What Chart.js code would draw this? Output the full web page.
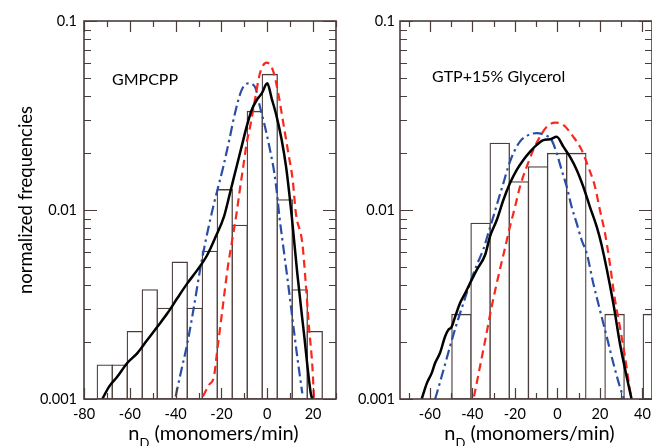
<!DOCTYPE html>
<html><head><meta charset="utf-8">
<script src="https://cdn.jsdelivr.net/npm/chart.js@4.4.1/dist/chart.umd.min.js"></script>
<style>
html,body{margin:0;padding:0;background:#fff;overflow:hidden;width:652px;height:446px}
#w1{position:absolute;left:0;top:0;width:345px;height:446px}
#w2{position:absolute;left:340px;top:0;width:320px;height:446px}
</style></head><body>
<div id="w1"><canvas id="c1" width="345" height="446"></canvas></div>
<div id="w2"><canvas id="c2" width="320" height="446"></canvas></div>
<script>
// ---------- DATA ----------
const yTickValues = [0.001, 0.01, 0.1];
const leftXTicks = [-80, -60, -40, -20, 0, 20];
const rightXTicks = [-60, -40, -20, 0, 20, 40];

// Left panel: GMPCPP
const leftBinCenters = [-70.93, -64.38, -57.83, -51.28, -44.74, -38.19, -31.64, -25.09, -18.55, -12.00, -5.45, 1.09, 7.64, 14.19, 20.74];
const leftHist = [0.00151, 0.00151, 0.00227, 0.00378, 0.00302, 0.00529, 0.00302, 0.00604, 0.0128, 0.0083, 0.0332, 0.0521, 0.0113, 0.00378, 0.00227];
const leftRedX = [-28.1, -25.4, -23.3, -21.8, -19.6, -17.2, -15.3, -13.4, -12.2, -10.5, -9.0, -7.5, -5.4, -3.2, -0.3, 2.4, 4.8, 7.0, 9.2, 11.1, 12.5, 15.3, 16.8, 18.2, 19.7, 20.4];
const leftRedY = [0.00103, 0.00119, 0.00131, 0.00182, 0.00296, 0.00501, 0.00694, 0.00961, 0.01226, 0.01695, 0.02254, 0.0276, 0.0382, 0.0529, 0.0602, 0.0551, 0.0414, 0.0288, 0.01995, 0.01442, 0.0096, 0.00667, 0.00409, 0.00241, 0.00148, 0.001];
const leftBlueX = [-40.0, -37.8, -34.9, -32.0, -29.1, -26.2, -23.6, -21.4, -19.2, -16.6, -14.1, -11.2, -8.3, -5.4, -3.2, -1.0, 1.2, 3.1, 4.4, 5.3, 6.6, 8.7, 10.9, 13.1, 15.3];
const leftBlueY = [0.00103, 0.00137, 0.00197, 0.00308, 0.00501, 0.00753, 0.0104, 0.01328, 0.01695, 0.02344, 0.0325, 0.0431, 0.0468, 0.0449, 0.0352, 0.0276, 0.0208, 0.01563, 0.01175, 0.00922, 0.00694, 0.00444, 0.00272, 0.00167, 0.00107];
const leftBlackX = [-72.0, -69.1, -65.5, -61.1, -56.7, -52.4, -48.0, -43.6, -39.3, -34.9, -30.5, -26.2, -22.5, -18.9, -16.3, -13.4, -11.2, -9.0, -6.8, -4.6, -2.4, 0.0, 1.9, 4.1, 6.3, 8.2, 9.6, 10.7, 13.1, 16.0, 19.0, 19.7];
const leftBlackY = [0.001, 0.00116, 0.00131, 0.00155, 0.00175, 0.00205, 0.00241, 0.00284, 0.00341, 0.00409, 0.00482, 0.00578, 0.00723, 0.00922, 0.01226, 0.01695, 0.02163, 0.0276, 0.0338, 0.0382, 0.0414, 0.0468, 0.039, 0.0312, 0.02344, 0.01695, 0.01226, 0.00922, 0.00462, 0.00223, 0.00107, 0.001];

// Right panel: GTP+15% Glycerol
const rightBinCenters = [-45.1, -36.1, -27.1, -18.1, -9.1, -0.1, 8.9, 17.9, 26.9, 35.9, 44.9];
const rightHist = [0.0028, 0.0085, 0.0225, 0.0141, 0.0169, 0.0199, 0.0199, null, 0.0028, null, 0.0028];
const rightRedX = [-39.2, -36.4, -33.6, -30.9, -27.8, -24.6, -22.3, -19.9, -17.6, -14.4, -11.3, -8.2, -5.0, -1.1, 2.8, 7.5, 11.4, 14.5, 17.7, 20.0, 22.4, 24.3, 27.1, 29.4, 31.8, 34.1, 34.9];
const rightRedY = [0.00103, 0.00148, 0.00214, 0.00308, 0.00444, 0.0063, 0.00816, 0.0104, 0.01328, 0.01695, 0.0208, 0.0244, 0.0276, 0.029, 0.0282, 0.0244, 0.0208, 0.01695, 0.01328, 0.01, 0.00753, 0.00557, 0.00334, 0.00241, 0.00167, 0.00112, 0.001];
const rightBlueX = [-57.5, -56.7, -53.6, -50.5, -47.3, -44.2, -41.1, -37.9, -34.8, -32.5, -30.1, -27.8, -25.4, -23.1, -20.7, -17.6, -13.7, -9.7, -5.8, -2.7, -0.3, 2.0, 4.4, 6.7, 9.1, 11.4, 13.8, 16.9, 20.0, 23.2, 26.3, 29.4, 31.3];
const rightBlueY = [0.001, 0.00107, 0.00142, 0.00189, 0.00251, 0.00321, 0.00409, 0.00512, 0.0062, 0.00753, 0.00922, 0.0113, 0.01384, 0.01695, 0.01995, 0.023, 0.0249, 0.0255, 0.0249, 0.02344, 0.01995, 0.0163, 0.01328, 0.0104, 0.0085, 0.00694, 0.0059, 0.00409, 0.00296, 0.00214, 0.00155, 0.00116, 0.001];
const rightBlackX = [-63.8, -61.4, -59.1, -57.5, -55.2, -52.8, -51.3, -49.7, -48.1, -45.8, -43.4, -41.1, -37.9, -34.0, -31.7, -28.5, -25.4, -22.3, -19.1, -16.0, -12.9, -9.7, -6.6, -3.5, -0.3, 2.8, 5.9, 9.1, 12.2, 15.3, 18.5, 20.8, 26.3, 29.4, 32.6, 34.9];
const rightBlackY = [0.001, 0.00121, 0.00137, 0.00155, 0.00175, 0.00214, 0.00232, 0.00241, 0.00272, 0.00321, 0.00362, 0.00409, 0.00482, 0.00578, 0.00723, 0.00885, 0.0113, 0.01384, 0.0163, 0.0184, 0.0203, 0.0221, 0.02344, 0.02366, 0.0244, 0.02163, 0.01914, 0.0163, 0.01328, 0.0104, 0.00816, 0.00653, 0.00321, 0.00197, 0.00131, 0.001];

// ---------- STYLE ----------
const FONT = 'Lato, "Open Sans", sans-serif';
const FRAME = '#4a3d3b';
const RED = '#f7281c';
const BLUE = '#2a4ea6';

function pts(xs, ys) { return xs.map((x, i) => ({x: x, y: ys[i]})); }

const framePlugin = {
  id: 'frameTicks',
  afterDraw(chart) {
    const {ctx, chartArea: a} = chart;
    const xs = chart.scales.x, ys = chart.scales.y;
    ctx.save();
    ctx.strokeStyle = FRAME;
    ctx.lineWidth = 1.2;
    ctx.beginPath();
    for (let e = -3; e < -1 + 0.5; e++) {
      for (let k = 1; k <= 9; k++) {
        const v = k * Math.pow(10, e);
        if (v < ys.min * 0.999 || v > ys.max * 1.001) continue;
        const p = Math.round(ys.getPixelForValue(v)) + 0.5;
        const L = (k === 1) ? 13 : 7;
        ctx.moveTo(a.left, p); ctx.lineTo(a.left + L, p);
        ctx.moveTo(a.right, p); ctx.lineTo(a.right - L, p);
      }
    }
    for (let v = Math.ceil(xs.min / 10) * 10; v <= xs.max; v += 10) {
      const p = Math.round(xs.getPixelForValue(v)) + 0.5;
      const L = (v % 20 === 0) ? 11 : 6;
      ctx.moveTo(p, a.top); ctx.lineTo(p, a.top + L);
      ctx.moveTo(p, a.bottom); ctx.lineTo(p, a.bottom - L);
    }
    ctx.stroke();
    ctx.lineWidth = 1.6;
    ctx.strokeRect(a.left, a.top, a.right - a.left, a.bottom - a.top);
    ctx.restore();
  }
};

const textPlugin = {
  id: 'texts',
  afterDraw(chart, args, o) {
    const {ctx, chartArea: a} = chart;
    ctx.save();
    ctx.fillStyle = '#000';
    ctx.textBaseline = 'alphabetic';
    ctx.textAlign = 'left';
    ctx.font = '16px ' + FONT;
    ctx.fillText(o.note, a.left + o.noteDx, a.top + o.noteDy);
    ctx.font = '20px ' + FONT;
    const w1 = ctx.measureText('n').width;
    const w3 = ctx.measureText(' (monomers/min)').width;
    ctx.font = '13px ' + FONT;
    const w2 = ctx.measureText('D').width;
    let x = (a.left + a.right) / 2 + 3.5 - (w1 + w2 + w3) / 2;
    const base = a.bottom + 41;
    ctx.font = '20px ' + FONT;
    ctx.fillText('n', x, base); x += w1;
    ctx.font = '13px ' + FONT;
    ctx.fillText('D', x, base + 8); x += w2;
    ctx.font = '20px ' + FONT;
    ctx.fillText(' (monomers/min)', x, base);
    if (o.yTitle) {
      ctx.font = '18.5px ' + FONT;
      ctx.translate(32, (a.top + a.bottom) / 2 - 10);
      ctx.rotate(-Math.PI / 2);
      ctx.textAlign = 'center';
      ctx.fillText(o.yTitle, 0, 0);
    }
    ctx.restore();
  }
};

function makeChart(id, cfg) {
  return new Chart(document.getElementById(id), {
    type: 'bar',
    data: {
      datasets: [
        {type: 'line', data: pts(cfg.blackX, cfg.blackY), borderColor: '#000', borderWidth: 2.5, pointRadius: 0, cubicInterpolationMode: 'monotone', order: 0},
        {type: 'line', data: pts(cfg.redX, cfg.redY), borderColor: RED, borderWidth: 2.2, borderDash: [8, 5], pointRadius: 0, cubicInterpolationMode: 'monotone', order: 1},
        {type: 'line', data: pts(cfg.blueX, cfg.blueY), borderColor: BLUE, borderWidth: 2.2, borderDash: [10, 4, 2.5, 4], pointRadius: 0, cubicInterpolationMode: 'monotone', order: 2},
        {type: 'bar', data: pts(cfg.binCenters, cfg.hist), backgroundColor: '#ffffff', borderColor: FRAME, borderWidth: 1.3, borderSkipped: false, inflateAmount: 0.65, barPercentage: 1, categoryPercentage: 1, grouped: false, order: 3}
      ]
    },
    options: {
      responsive: false,
      animation: false,
      devicePixelRatio: 1,
      layout: {padding: {top: 21, right: cfg.padRight, left: 0, bottom: 0}},
      plugins: {legend: {display: false}, tooltip: {enabled: false},
        texts: {note: cfg.note, noteDx: cfg.noteDx, noteDy: cfg.noteDy, yTitle: cfg.yTitle}},
      scales: {
        x: {
          type: 'linear', min: cfg.xMin, max: cfg.xMax, offset: false,
          grid: {display: false, drawTicks: false}, border: {display: false},
          ticks: {color: '#000', font: {family: FONT, size: 14.5}, padding: 7, maxRotation: 0, autoSkip: false,
            callback: v => String(v)},
          afterBuildTicks: s => { s.ticks = cfg.xTicks.map(v => ({value: v})); },
          afterFit: s => { s.height = 47; }
        },
        y: {
          type: 'logarithmic', min: 0.001, max: 0.1,
          grid: {display: false, drawTicks: false}, border: {display: false},
          ticks: {color: '#000', font: {family: FONT, size: 14.5}, padding: cfg.yPad, autoSkip: false,
            callback: v => String(v)},
          afterBuildTicks: s => { s.ticks = yTickValues.map(v => ({value: v})); },
          afterFit: s => { s.width = cfg.yWidth; }
        }
      }
    },
    plugins: [framePlugin, textPlugin]
  });
}

makeChart('c1', {
  binCenters: leftBinCenters, hist: leftHist,
  redX: leftRedX, redY: leftRedY, blueX: leftBlueX, blueY: leftBlueY, blackX: leftBlackX, blackY: leftBlackY,
  xMin: -80, xMax: 30, xTicks: leftXTicks, yWidth: 84, yPad: 7, padRight: 9,
  note: 'GMPCPP', noteDx: 28, noteDy: 64, yTitle: 'normalized frequencies'
});
makeChart('c2', {
  binCenters: rightBinCenters, hist: rightHist,
  redX: rightRedX, redY: rightRedY, blueX: rightBlueX, blueY: rightBlueY, blackX: rightBlackX, blackY: rightBlackY,
  xMin: -74, xMax: 44.5, xTicks: rightXTicks, yWidth: 60, yPad: 5, padRight: 8,
  note: 'GTP+15% Glycerol', noteDx: 32, noteDy: 61, yTitle: null
});
</script>
</body></html>
